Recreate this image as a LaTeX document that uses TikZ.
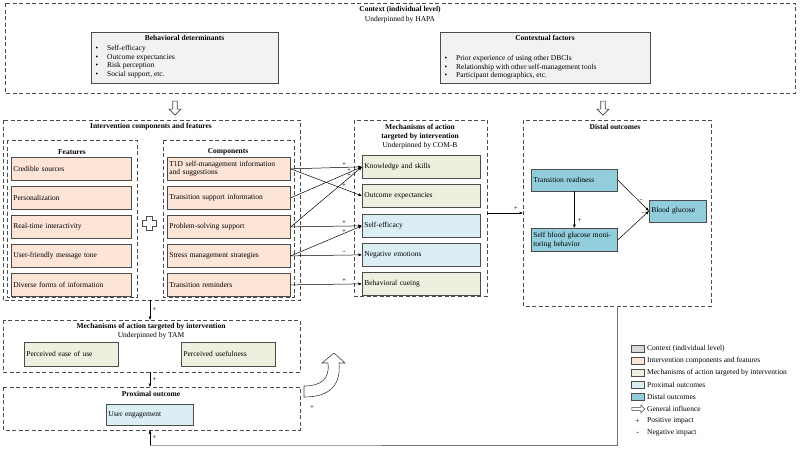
\documentclass[tikz,border=0pt]{standalone}
\usepackage{fontspec}
\setmainfont{Liberation Serif}
\usetikzlibrary{arrows.meta,shapes.arrows}
\definecolor{ctx}{HTML}{D9D9D9}
\definecolor{ctxl}{HTML}{F2F2F2}
\definecolor{comp}{HTML}{FCE4D6}
\definecolor{mech}{HTML}{EBF1DE}
\definecolor{prox}{HTML}{DAEEF3}
\definecolor{dist}{HTML}{92CDDC}
\tikzset{
 grp/.style={draw=black!70,dashed,dash pattern=on 4pt off 2.5pt,line width=0.6pt},
 bx/.style={draw=black!70,line width=0.7pt,anchor=north west,inner sep=2pt,font=\fontsize{7.5}{8.5}\selectfont,align=left,text width=#1},
 t/.style={font=\fontsize{7.5}{8.5}\selectfont},
 tb/.style={font=\bfseries\fontsize{7.5}{8.5}\selectfont},
 ar/.style={-{Latex[length=3.5pt,width=3pt]},line width=0.5pt},
 pm/.style={font=\fontsize{7}{8}\selectfont,inner sep=0pt},
 harrow/.style={draw=black!75,single arrow,fill=white,line width=0.6pt,minimum height=14pt,single arrow head extend=3pt,inner sep=1.5pt,minimum width=12pt}
}
\begin{document}
\begin{tikzpicture}[x=1pt,y=-1pt]
\useasboundingbox (0,0) rectangle (800,455);
% Context
\draw[grp] (5,3) rectangle (795,93);
\node[tb] (ctxt) at (400,10) {Context (individual level)};
\node[t] (ctxs) at (400,20) {Underpinned by HAPA};
\node[bx=183pt,fill=ctxl,minimum height=51pt] (bd) at (91,32) {};
\node[tb] (bdt) at (184.5,38) {Behavioral determinants};
\node[t,anchor=north west,align=left] (bdl) at (92,42) {\textbullet\hspace{1.2em}Self-efficacy\\\textbullet\hspace{1.2em}Outcome expectancies\\\textbullet\hspace{1.2em}Risk perception\\\textbullet\hspace{1.2em}Social support, etc.};
\node[bx=206pt,fill=ctxl,minimum height=51pt] (cf) at (440,32) {};
\node[tb] (cft) at (545,38) {Contextual factors};
\node[t,anchor=north west,align=left] (cfl) at (441,52) {\textbullet\hspace{1.2em}Prior experience of using other DBCIs\\\textbullet\hspace{1.2em}Relationship with other self-management tools\\\textbullet\hspace{1.2em}Participant demographics, etc.};
\node[harrow,rotate=-90] (h1) at (175,107) {};
\node[harrow,rotate=-90] (h2) at (603,107) {};
% Intervention
\draw[grp] (3,120) rectangle (300,300);
\node[tb] (it) at (151,127) {Intervention components and features};
\draw[grp] (7,140) rectangle (137,297);
\node[tb] (ft) at (72,152) {Features};
\foreach \n/\y/\s in {f1/157/Credible sources,f2/186/Personalization,f3/215/Real-time interactivity,f4/244/User-friendly message tone,f5/273/Diverse forms of information}
  \node[bx=116pt,fill=comp,minimum height=23pt] (\n) at (11,\y) {\s};
\draw[black!70,fill=white,line width=0.6pt] (146,216)--(152,216)--(152,220)--(156,220)--(156,226)--(152,226)--(152,230)--(146,230)--(146,226)--(142,226)--(142,220)--(146,220)--cycle;
\draw[grp] (163,140) rectangle (294,297);
\node[tb] (ct) at (228,152) {Components};
\node[bx=119pt,fill=comp,minimum height=23pt] (c1) at (167,157) {T1D self-management information and suggestions};
\foreach \n/\y/\s in {c2/186/Transition support information,c3/215/Problem-solving support,c4/244/Stress management strategies,c5/273/Transition reminders}
  \node[bx=119pt,fill=comp,minimum height=23pt] (\n) at (167,\y) {\s};
% Mechanisms COM-B
\draw[grp] (354,120) rectangle (487,296);
\node[tb,align=center] (mt) at (420,132) {Mechanisms of action\\targeted by intervention};
\node[t] (ms) at (420,146) {Underpinned by COM-B};
\node[bx=114pt,fill=mech,minimum height=23pt] (m1) at (362,155) {Knowledge and skills};
\node[bx=114pt,fill=mech,minimum height=23pt] (m2) at (362,184) {Outcome expectancies};
\node[bx=114pt,fill=prox,minimum height=23pt] (m3) at (362,214) {Self-efficacy};
\node[bx=114pt,fill=prox,minimum height=23pt] (m4) at (362,243) {Negative emotions};
\node[bx=114pt,fill=mech,minimum height=23pt] (m5) at (362,272) {Behavioral cueing};
\draw[ar] (c1.east) -- (m1.west) node[pm,pos=0.75,above=1pt]{+};
\draw[ar] (c1.east) -- (m2.west) node[pm,pos=0.75,above=1pt]{+};
\draw[ar] (c2.east) -- (m1.west) node[pm,pos=0.82,above=0pt]{+};
\draw[ar] (c3.east) -- (m1.west) node[pm,pos=0.82,above=0pt]{+};
\draw[ar] (c3.east) -- (m3.west) node[pm,pos=0.75,above=1pt]{+};
\draw[ar] (c4.east) -- (m3.west) node[pm,pos=0.75,above=0pt]{+};
\draw[ar] (c4.east) -- (m4.west) node[pm,pos=0.75,above=1pt]{-};
\draw[ar] (c5.east) -- (m5.west) node[pm,pos=0.75,above=1pt]{+};
% Distal
\draw[grp] (523,120) rectangle (711,306);
\node[tb] (dt) at (615,127) {Distal outcomes};
\coordinate (mr) at (487,213);
\coordinate (dl) at (523,213);
\draw[ar] (mr) -- (dl) node[pm,pos=0.8,above=2pt]{+};
\node[bx=82pt,fill=dist,minimum height=22pt,anchor=west] (d1) at (531,180) {Transition readiness};
\node[bx=82pt,fill=dist,minimum height=23pt,anchor=west] (d2) at (531,240) {Self blood glucose monitoring behavior};
\node[bx=53pt,fill=dist,minimum height=22pt,anchor=west] (d3) at (649,211) {Blood glucose};
\draw[ar] (d1.south) -- (d2.north) node[pm,pos=0.8,right=3pt]{+};
\draw[ar] (d1.east) -- (d3.west) node[pm,pos=0.75,above=2pt]{-};
\draw[ar] (d2.east) -- (d3.west) node[pm,pos=0.8,above=2pt]{-};
% TAM
\draw[grp] (3,320) rectangle (300,372);
\node[tb] (tt) at (151,327) {Mechanisms of action targeted by intervention};
\node[t] (ts) at (151,336) {Underpinned by TAM};
\node[bx=90pt,fill=mech,minimum height=24pt] (p1) at (24,342) {Perceived ease of use};
\node[bx=90pt,fill=mech,minimum height=24pt] (p2) at (181,342) {Perceived usefulness};
\coordinate (ib) at (150,300); \coordinate (tamt) at (150,320);
\draw[ar] (ib) -- (tamt) node[pm,midway,right=2pt]{+};
% Proximal
\draw[grp] (3,387) rectangle (300,430);
\node[tb] (pt) at (151,394) {Proximal outcome};
\node[bx=83pt,fill=prox,minimum height=21pt] (ue) at (106,404) {User engagement};
\coordinate (tamb) at (150,372); \coordinate (prt) at (150,387);
\draw[ar] (tamb) -- (prt) node[pm,midway,right=2pt]{+};
% curved hollow arrow
\draw[black!75,fill=white,line width=0.6pt] (304,386) -- (304,397) .. controls (330,397) and (341,385) .. (339,363) -- (345,363) -- (334,353) -- (322,363) -- (328,363) .. controls (330,380) and (320,386) .. cycle;
\node[pm] (cp) at (312,408) {+};
% feedback
\coordinate (db) at (617,306); \coordinate (f1c) at (617,445); \coordinate (f2c) at (150,445); \coordinate (pb) at (150,430);
\draw[black!55,line width=0.9pt] (db) -- (f1c) -- (f2c) -- (151,445);
\draw[ar] (f2c) -- (pb) node[pm,pos=0.5,right=2pt]{+};
% Legend
\foreach \c/\y/\s/\n in {ctx/349/Context (individual level)/l1,comp/361/Intervention components and features/l2,mech/373/Mechanisms of action targeted by intervention/l3,prox/385/Proximal outcomes/l4,dist/397/Distal outcomes/l5}{
  \draw[black!70,fill=\c,line width=0.5pt] (631,\y-3.5) rectangle (644,\y+3.5);
  \node[t,anchor=west,inner sep=0pt] (\n) at (647,\y) {\s};}
\node[draw=black!75,single arrow,fill=white,line width=0.5pt,minimum height=13pt,minimum width=8pt,single arrow head extend=2pt,inner sep=1pt] (la) at (637.5,409) {};
\node[t,anchor=west,inner sep=0pt] (l6) at (647,409) {General influence};
\node[t] (lp) at (637.5,421) {+};
\node[t,anchor=west,inner sep=0pt] (l7) at (647,421) {Positive impact};
\node[t] (lm) at (637.5,433) {\textbf{-}};
\node[t,anchor=west,inner sep=0pt] (l8) at (647,433) {Negative impact};
\end{tikzpicture}
\end{document}
